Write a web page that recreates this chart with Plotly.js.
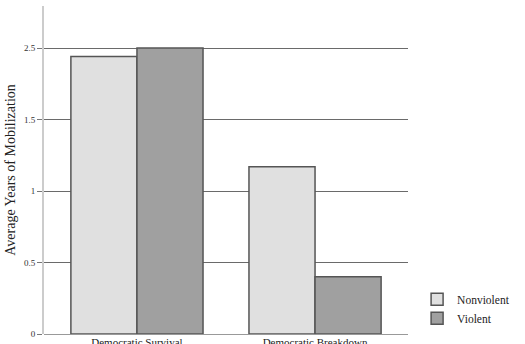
<!DOCTYPE html>
<html>
<head>
<meta charset="utf-8">
<script src="https://cdn.plot.ly/plotly-3.0.1.min.js"></script>
<style>html,body{margin:0;padding:0;background:#fff;}#chart{width:525px;height:344px;}</style>
</head>
<body>
<div id="chart"></div>
<script>
const categories = ["Democratic Survival", "Democratic Breakdown"];
const nonviolent = [1.94, 1.17];
const violent = [2.0, 0.40];
const yTickVals = [0, 0.5, 1, 1.5, 2];
const yTickText = ["0", "0.5", "1", "1.5", "2.5"];

const serif = "Liberation Serif, Times New Roman, serif";
const traces = [
  {type: "bar", name: "Nonviolent", x: categories, y: nonviolent,
   marker: {color: "#e0e0e0", line: {color: "#555555", width: 1.5}}},
  {type: "bar", name: "Violent", x: categories, y: violent,
   marker: {color: "#a0a0a0", line: {color: "#555555", width: 1.5}}}
];
const layout = {
  width: 525, height: 344,
  margin: {l: 44, r: 117, t: 6, b: 10},
  paper_bgcolor: "#fff", plot_bgcolor: "#fff",
  barmode: "group", bargap: 0.258, bargroupgap: 0,
  showlegend: true,
  legend: {x: 1.025, y: 0.15, xanchor: "left", yanchor: "top",
           font: {family: serif, size: 11.5, color: "#222"}},
  xaxis: {type: "category", range: [-0.522, 1.522], showgrid: false,
          showline: false, ticks: "", tickfont: {family: serif, size: 11, color: "#222"},
          automargin: false},
  yaxis: {range: [0, 2.294], tickvals: yTickVals, ticktext: yTickText,
          showgrid: true, gridcolor: "#6a6a6a", gridwidth: 1,
          zeroline: true, zerolinecolor: "#999", zerolinewidth: 1,
          showline: true, linecolor: "#cccccc", linewidth: 2,
          ticks: "outside", ticklen: 5, tickcolor: "#777",
          tickfont: {family: serif, size: 9, color: "#333"},
          title: {text: "Average Years of Mobilization", font: {family: serif, size: 14, color: "#222"}, standoff: 5},
          automargin: false}
};
Plotly.newPlot("chart", traces, layout, {displayModeBar: false, staticPlot: true});
</script>
</body>
</html>
